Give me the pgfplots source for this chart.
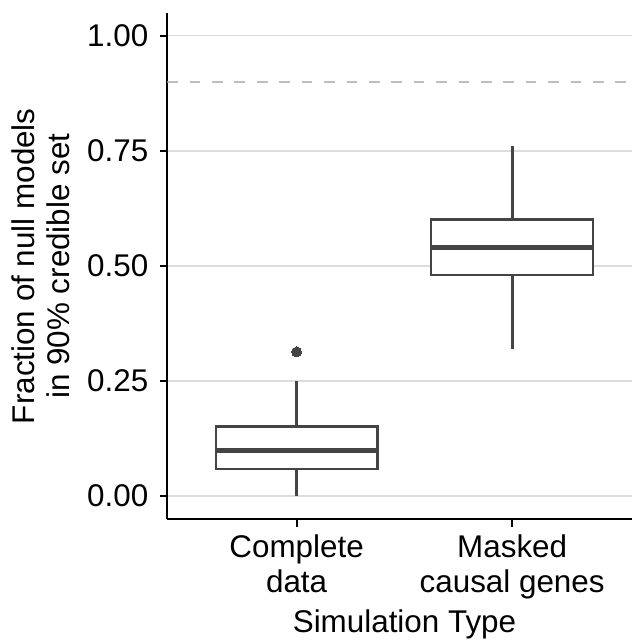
\documentclass[border=0pt]{standalone}
\usepackage{fontspec}
\setmainfont{Liberation Sans}
\usepackage{pgfplots}
\usepgfplotslibrary{statistics}
\pgfplotsset{compat=1.18}
\definecolor{boxc}{HTML}{444444}
\definecolor{gridc}{HTML}{DCDCDC}
\definecolor{dashc}{HTML}{BEBEBE}
\newcommand{\chartfont}{\fontsize{31.5}{34.6}\selectfont}
\begin{document}
\begin{tikzpicture}
\begin{axis}[
  scale only axis, width=464.7bp, height=505.7bp,
  xmin=0.4, xmax=2.556, ymin=-0.05, ymax=1.049,
  axis lines=left, axis line style={-, black, line width=2bp},
  tick align=outside, major tick length=7.5bp, tick style={black, line width=2bp},
  xtick={1,2}, xticklabels={Complete\\data, Masked\\causal genes},
  ytick={0,0.25,0.5,0.75,1}, yticklabels={0.00,0.25,0.50,0.75,1.00},
  xticklabel style={align=center, font=\chartfont, yshift=-5bp},
  yticklabel style={font=\chartfont, xshift=-8bp},
  ymajorgrids, major grid style={gridc, line width=1.3bp},
  xlabel={Simulation Type},
  xlabel style={at={(axis description cs:0.5104,-0.2254)}, anchor=base, font=\chartfont},
  ylabel={Fraction of null models\\in 90\% credible set},
  ylabel style={align=center, at={(axis description cs:-0.2725,0.5)}, anchor=center, font=\chartfont},
  boxplot/draw direction=y,
  boxplot/box extend=0.75,
  boxplot/whisker extend=0,
  boxplot/every median/.style={line width=5bp},
  boxplot/every box/.style={fill=white, line width=2.2bp},
  boxplot/every whisker/.style={line width=2.8bp, draw=boxc},
]
\addplot[dashc, line width=2.7bp, dash pattern=on 10.7bp off 11.7bp, forget plot] coordinates {(0.4,0.9) (2.556,0.9)};
\addplot[boxplot prepared={draw position=1, lower whisker=0, lower quartile=0.058, median=0.098, upper quartile=0.151, upper whisker=0.25},
  draw=boxc, solid, line width=2.2bp, mark=*, mark size=5bp, mark options={draw=boxc, fill=boxc, line width=0pt}]
  table[row sep=\\, y index=0] {0.313\\};
\addplot[boxplot prepared={draw position=2, lower whisker=0.32, lower quartile=0.481, median=0.54, upper quartile=0.601, upper whisker=0.76},
  draw=boxc, solid, line width=2.2bp]
  coordinates {};
\end{axis}
\pgfresetboundingbox
\useasboundingbox ([xshift=-167.3bp,yshift=-121bp]current axis.south west) rectangle ([yshift=13.3bp]current axis.north east);
\end{tikzpicture}
\end{document}
